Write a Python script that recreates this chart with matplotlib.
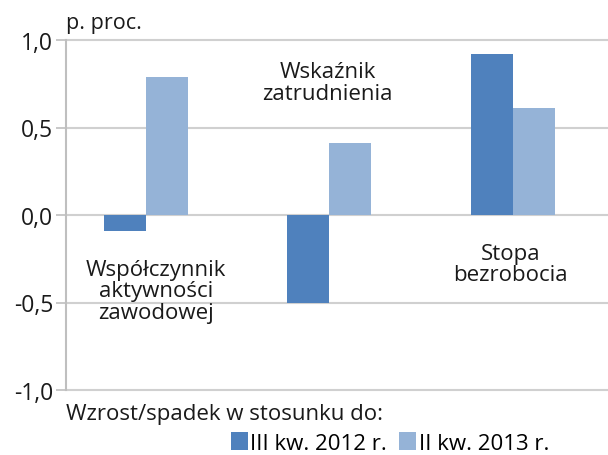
import matplotlib
matplotlib.use("Agg")
import matplotlib.pyplot as plt
from matplotlib.patches import Patch

categories = ["Współczynnik\naktywności\nzawodowej", "Wskaźnik\nzatrudnienia", "Stopa\nbezrobocia"]
series_names = ["III kw. 2012 r.", "II kw. 2013 r."]
vals_2012 = [-0.09, -0.50, 0.92]
vals_2013 = [0.79, 0.41, 0.61]
yticks = [-1.0, -0.5, 0.0, 0.5, 1.0]
ytick_labels = ["-1,0", "-0,5", "0,0", "0,5", "1,0"]

c1 = "#4F81BD"
c2 = "#95B3D7"
font = ["Open Sans", "DejaVu Sans"]
plt.rcParams['font.family'] = font
tc = "#1a1a1a"

W, H = 608, 456
fig = plt.figure(figsize=(W/100, H/100), dpi=100)
left = 65.7 / W
bottom = 1 - 391 / H
top = 1 - 41 / H
ax = fig.add_axes([left, bottom, 1 - left, top - bottom])

x = list(range(len(categories)))
bw = 0.229
ax.bar([i - bw/2 for i in x], vals_2012, width=bw, color=c1, zorder=3)
ax.bar([i + bw/2 for i in x], vals_2013, width=bw, color=c2, zorder=3)

ax.set_ylim(-1.0, 1.0)
ax.set_xlim(-0.438, 2.52)
ax.set_yticks(yticks)
ax.set_yticklabels(ytick_labels, fontsize=16.5, color=tc)
ax.set_xticks([])
ax.tick_params(axis='y', length=7, color="#BFBFBF", width=1.2, pad=2)
for y in yticks:
    ax.axhline(y, color="#D0D0D0", lw=1.5, zorder=1, clip_on=False)
for s in ["top", "right", "bottom"]:
    ax.spines[s].set_visible(False)
ax.spines["left"].set_color("#BFBFBF")
ax.spines["left"].set_linewidth(1.5)

# category labels
label_pos = [(0.055, -0.434), (0.99, 0.757), (1.99, -0.28)]
for lab, (lx, ly) in zip(categories, label_pos):
    ax.text(lx, ly, lab, ha="center", va="center", fontsize=16, color=tc,
            linespacing=1.05, zorder=4)

fig.text(66 / W, 1 - 24 / H, "p. proc.", ha="left", va="center", fontsize=15.5, color=tc)
fig.text(66 / W, 1 - 415 / H, "Wzrost/spadek w stosunku do:", ha="left", va="center",
         fontsize=16, color=tc)

handles = [Patch(facecolor=c1, edgecolor="none"), Patch(facecolor=c2, edgecolor="none")]
fig.legend(handles, series_names, loc="center left", bbox_to_anchor=(231 / W, 1 - 444 / H),
           ncol=2, frameon=False, fontsize=16, handlelength=0.75, handleheight=0.85,
           handletextpad=0.12, columnspacing=0.55, borderpad=0, borderaxespad=0)

fig.savefig("out.png", dpi=100)
